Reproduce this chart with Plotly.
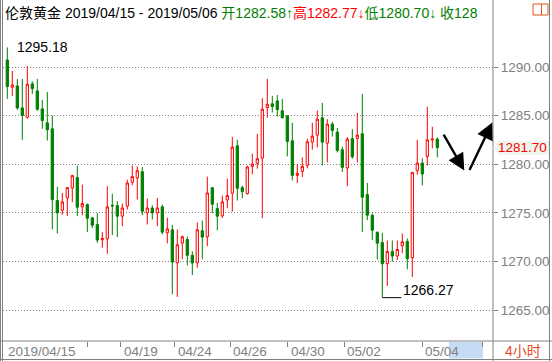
import plotly.graph_objects as go

# ---------------- data (4-hour candles, London gold) ----------------
opens = [1290.72, 1287.91, 1288.05, 1285.79, 1284.84, 1288.26, 1287.54, 1285.69, 1284.26, 1283.64,
         1276.26, 1275.26, 1276.53, 1277.56, 1278.62, 1275.61, 1275.85, 1274.48, 1273.79, 1272.22,
         1272.32, 1275.78, 1275.74, 1274.65, 1275.68, 1278.14, 1278.58, 1279.23, 1274.99, 1275.50,
         1274.99, 1275.61, 1272.94, 1273.25, 1269.86, 1271.88, 1272.26, 1270.62, 1269.86, 1273.15,
         1272.53, 1277.59, 1275.44, 1274.68, 1276.32, 1277.01, 1281.90, 1277.59, 1276.97, 1279.78,
         1280.09, 1280.63, 1285.83, 1286.21, 1286.51, 1285.49, 1284.97, 1282.41, 1278.85, 1279.26,
         1279.88, 1282.27, 1282.99, 1284.77, 1282.17, 1284.12, 1283.30, 1281.49, 1279.61, 1282.62,
         1282.65, 1283.13, 1276.87, 1274.75, 1272.97, 1271.95, 1269.76, 1271.03, 1270.55, 1271.61,
         1272.05, 1270.38, 1279.33, 1280.12, 1280.80, 1282.50, 1282.58]
highs = [1292.02, 1289.59, 1288.77, 1288.77, 1290.10, 1288.53, 1288.77, 1286.62, 1287.44, 1285.01,
         1277.69, 1277.04, 1277.62, 1278.92, 1279.85, 1277.90, 1275.95, 1274.55, 1274.96, 1273.01,
         1277.73, 1276.97, 1276.19, 1275.95, 1278.41, 1279.85, 1279.78, 1279.71, 1276.46, 1275.78,
         1276.53, 1275.85, 1274.48, 1273.76, 1273.28, 1272.67, 1272.56, 1271.03, 1274.00, 1274.21,
         1278.72, 1277.59, 1276.02, 1276.77, 1278.51, 1282.82, 1282.51, 1277.79, 1279.85, 1281.08,
         1283.13, 1286.79, 1288.77, 1287.03, 1287.13, 1286.72, 1285.00, 1284.26, 1280.02, 1280.70,
         1282.62, 1284.26, 1285.52, 1286.31, 1284.63, 1284.36, 1283.74, 1281.79, 1282.79, 1283.61,
         1285.28, 1287.23, 1278.07, 1274.92, 1273.11, 1272.94, 1272.15, 1272.15, 1272.15, 1272.87,
         1272.36, 1279.16, 1282.51, 1280.60, 1285.90, 1283.85, 1282.77]
lows = [1286.72, 1287.03, 1285.59, 1282.51, 1284.67, 1287.23, 1285.49, 1283.64, 1282.44, 1273.28,
        1272.87, 1274.82, 1274.65, 1276.09, 1274.65, 1274.75, 1273.01, 1273.42, 1271.91, 1271.40,
        1270.79, 1272.70, 1272.50, 1273.62, 1275.33, 1277.83, 1276.36, 1274.75, 1273.79, 1274.31,
        1273.62, 1272.77, 1271.85, 1266.62, 1266.35, 1270.21, 1269.59, 1268.60, 1269.35, 1270.21,
        1271.57, 1274.96, 1273.21, 1274.48, 1275.47, 1275.13, 1276.26, 1276.50, 1276.87, 1278.96,
        1279.54, 1274.44, 1284.80, 1285.32, 1284.91, 1284.67, 1280.80, 1278.34, 1278.07, 1278.68,
        1279.57, 1281.49, 1281.73, 1279.88, 1280.19, 1282.85, 1281.21, 1279.20, 1277.73, 1280.56,
        1280.19, 1273.01, 1274.24, 1272.19, 1270.21, 1266.27, 1267.47, 1269.97, 1270.14, 1270.85,
        1269.18, 1268.39, 1278.92, 1277.83, 1279.88, 1281.62, 1280.70]
closes = [1287.98, 1288.15, 1285.79, 1285.01, 1288.22, 1287.78, 1285.66, 1284.50, 1283.54, 1276.36,
          1274.99, 1276.12, 1277.59, 1278.82, 1275.57, 1275.95, 1274.44, 1273.73, 1272.19, 1272.36,
          1275.61, 1275.71, 1274.65, 1275.50, 1278.07, 1278.72, 1279.33, 1275.16, 1275.50, 1274.99,
          1275.50, 1273.01, 1273.35, 1269.93, 1271.71, 1272.53, 1270.62, 1269.83, 1273.25, 1272.50,
          1277.04, 1275.88, 1274.65, 1276.12, 1276.77, 1281.76, 1277.52, 1277.18, 1279.71, 1280.02,
          1280.56, 1285.66, 1286.17, 1285.93, 1285.62, 1284.80, 1282.34, 1278.85, 1279.06, 1279.78,
          1282.31, 1282.89, 1284.63, 1282.27, 1284.12, 1283.47, 1281.42, 1279.68, 1282.58, 1280.77,
          1282.99, 1276.60, 1274.75, 1273.21, 1271.88, 1269.76, 1271.03, 1270.55, 1271.23, 1272.02,
          1270.27, 1279.16, 1280.12, 1278.99, 1282.51, 1282.58, 1281.70]
candle_idx = list(range(len(opens)))

# x-axis tick marks (candle positions) and date labels
tick_pos = [16.0, 22.7, 33.5, 44.6, 56.1, 67.4, 83.0, 95.0]
label_pos = [-0.5, 22.7, 33.5, 44.6, 56.1, 67.4, 83.0]
label_text = ["2019/04/15", "04/19", "04/24", "04/26", "04/30", "05/02", "05/04"]

y_ticks = [1265, 1270, 1275, 1280, 1285, 1290]

max_label = "1295.18"
min_label = "1266.27"
last_price = 1281.70

# direction arrows: (tail_x, tail_y, tip_x, tip_y) in candle/price units
arrows = [(87.1, 1283.19, 91.4, 1279.35), (92.3, 1279.24, 97.0, 1284.30)]

# ---------------- layout helpers ----------------
W, H = 552, 361
ML, MR, MT, MB = 3, 59, 28, 20
PW = W - ML - MR
PH = H - MT - MB


def px(x):
    return (x - ML) / PW


def py(y):
    return (H - MB - y) / PH


GRAY = "#808080"
FONT = "Arial, 'Liberation Sans', 'Noto Sans CJK SC', sans-serif"

fig = go.Figure()
fig.add_trace(go.Candlestick(
    x=candle_idx, open=opens, high=highs, low=lows, close=closes,
    increasing=dict(line=dict(color="#ff0000", width=1), fillcolor="#ffffff"),
    decreasing=dict(line=dict(color="#008000", width=1), fillcolor="#008000"),
    whiskerwidth=0, hoverinfo="skip", showlegend=False,
))

shapes = []
# frame lines
for x0 in (0.5, 2.5, 493, 549.5):
    shapes.append(dict(type="line", xref="paper", yref="paper", x0=px(x0), x1=px(x0),
                       y0=py(0), y1=py(361), line=dict(color=GRAY, width=1), layer="above"))
for y0 in (341, 359.5):
    shapes.append(dict(type="line", xref="paper", yref="paper", x0=px(0), x1=px(552),
                       y0=py(y0), y1=py(y0), line=dict(color=GRAY, width=1), layer="above"))
# scroll highlight behind last date label
shapes.append(dict(type="rect", xref="paper", yref="paper", x0=px(449), x1=px(483),
                   y0=py(342), y1=py(358.5), fillcolor="#c6dbf5", line=dict(width=0), layer="below"))
# icon top right
shapes.append(dict(type="rect", xref="paper", yref="paper", x0=px(533), x1=px(548),
                   y0=py(4), y1=py(15), line=dict(color="#e0561b", width=1), fillcolor="rgba(0,0,0,0)"))
shapes.append(dict(type="line", xref="paper", yref="paper", x0=px(541.5), x1=px(541.5),
                   y0=py(4), y1=py(15), line=dict(color="#e0561b", width=1)))
# last-price tag
lp_y = py(67 + (1290 - last_price) * 9.72)
hh = 7 / PH
path = "M {} {} L {} {} L {} {} L {} {} L {} {} Z".format(
    px(493), lp_y, px(499), lp_y + hh, px(549), lp_y + hh, px(549), lp_y - hh, px(499), lp_y - hh)
shapes.append(dict(type="path", xref="paper", yref="paper", path=path,
                   fillcolor="#eef5ec", line=dict(width=0), layer="above"))
# low marker line
shapes.append(dict(type="line", xref="x", yref="y", x0=75, x1=78.8, y0=lows[75], y1=lows[75],
                   line=dict(color="#000000", width=1)))

annotations = []
header = ("伦敦黄金 2019/04/15 - 2019/05/06 "
          "<span style='color:#008000'>开1282.58↑</span>"
          "<span style='color:#ff0000'>高1282.77↓</span>"
          "<span style='color:#008000'>低1280.70↓ 收128</span>")
annotations.append(dict(xref="paper", yref="paper", x=px(3), y=py(13), xanchor="left", yanchor="middle",
                        text=header, showarrow=False, font=dict(family=FONT, size=14, color="#000000")))
for pos, txt in zip(label_pos, label_text):
    annotations.append(dict(xref="x", yref="paper", x=pos, y=py(351), xanchor="left", yanchor="middle",
                            text=txt, showarrow=False, xshift=1,
                            font=dict(family=FONT, size=13.5, color=GRAY)))
annotations.append(dict(xref="paper", yref="paper", x=px(503), y=py(351), xanchor="left", yanchor="middle",
                        text="4小时", showarrow=False, font=dict(family=FONT, size=14, color="#e8491d")))
annotations.append(dict(xref="x", yref="y", x=0, y=highs[0], xanchor="left", yanchor="middle",
                        xshift=8, text=max_label, showarrow=False,
                        font=dict(family=FONT, size=14, color="#000000")))
annotations.append(dict(xref="x", yref="y", x=75, y=lows[75], xanchor="left", yanchor="bottom",
                        xshift=19, yshift=-2, text=min_label, showarrow=False,
                        font=dict(family=FONT, size=14, color="#000000")))
annotations.append(dict(xref="paper", yref="y", x=px(496), y=last_price, xanchor="left", yanchor="middle",
                        text="%.2f" % last_price, showarrow=False,
                        font=dict(family=FONT, size=13.5, color="#ff0000")))
for tx, ty, hx, hy in arrows:
    annotations.append(dict(xref="x", yref="y", x=hx, y=hy, axref="x", ayref="y", ax=tx, ay=ty,
                            text="", showarrow=True, arrowhead=2, arrowsize=1.4, arrowwidth=2.4,
                            arrowcolor="#000000", standoff=0))

x_lo = (ML - 7.3) / 5
x_hi = (ML + PW - 7.3) / 5
y_hi = 1290 + (67 - MT) / 9.72
y_lo = 1290 - (H - MB - 67) / 9.72

fig.update_layout(
    width=W, height=H,
    margin=dict(l=ML, r=MR, t=MT, b=MB, pad=0),
    paper_bgcolor="#ffffff", plot_bgcolor="#ffffff",
    boxgap=0.35,
    shapes=shapes, annotations=annotations,
    showlegend=False,
    xaxis=dict(range=[x_lo, x_hi], rangeslider=dict(visible=False), showgrid=False, zeroline=False,
               showline=False, tickvals=tick_pos, ticktext=[""] * len(tick_pos), ticks="outside",
               ticklen=5, tickcolor=GRAY, tickwidth=1, fixedrange=True),
    yaxis=dict(range=[y_lo, y_hi], side="right", tickvals=y_ticks,
               ticktext=["%.2f" % v for v in y_ticks], showgrid=True, gridcolor=GRAY, gridwidth=1,
               griddash="1px,2px", zeroline=False, showline=False, ticks="outside", ticklen=4,
               tickcolor=GRAY, tickfont=dict(family=FONT, size=13.5, color=GRAY), fixedrange=True),
)

fig.write_html("out.html")
